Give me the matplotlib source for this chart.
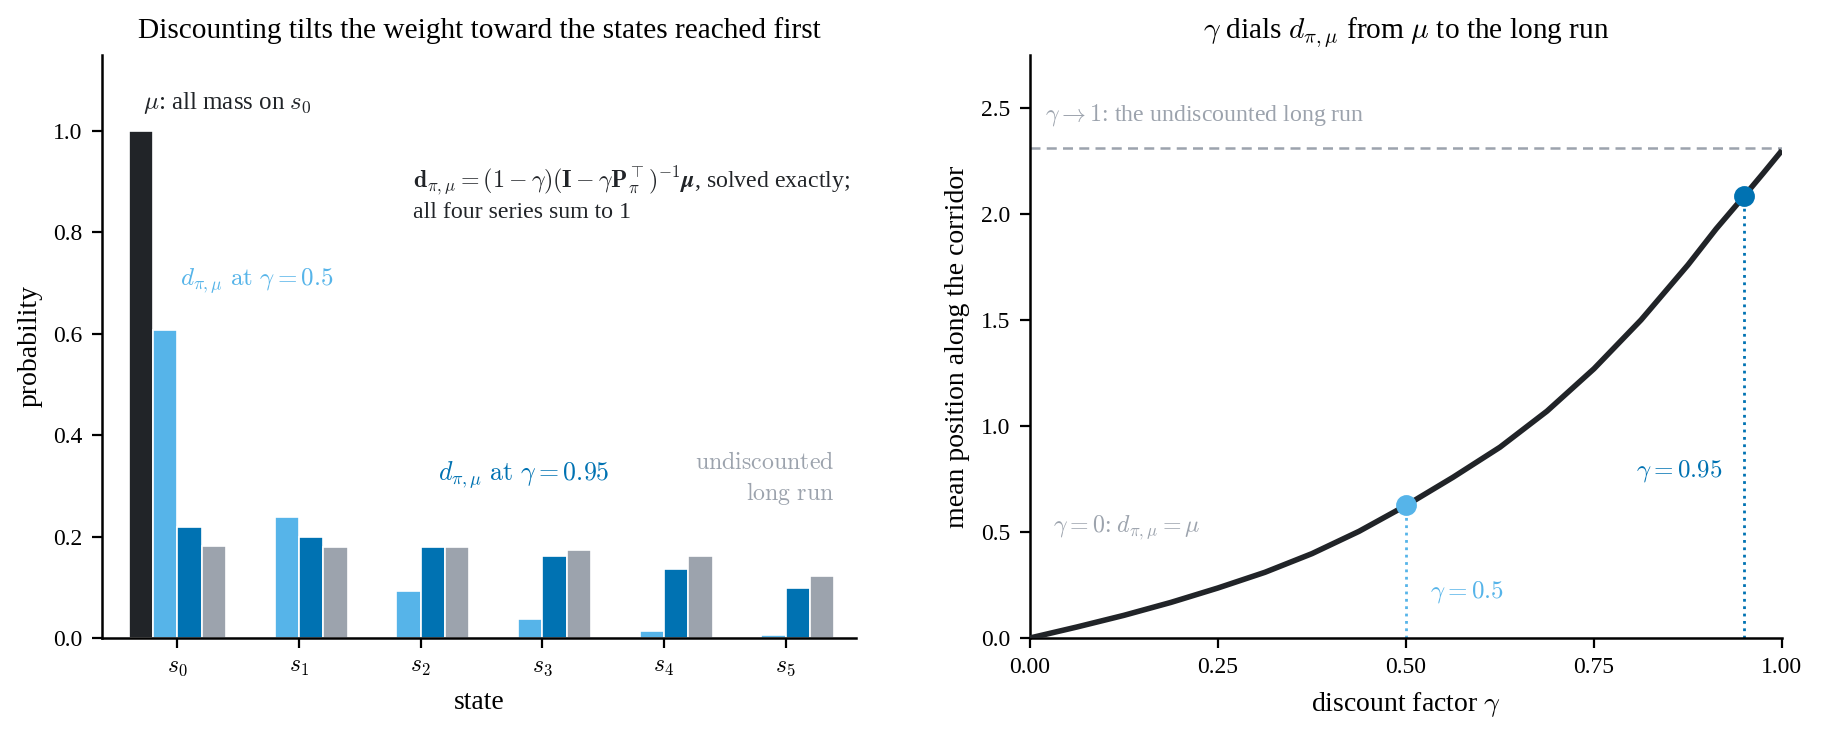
import matplotlib
matplotlib.use("Agg")
import matplotlib.pyplot as plt
import numpy as np

plt.rcParams['font.family'] = ['Liberation Serif', 'DejaVu Serif']
plt.rcParams['mathtext.fontset'] = 'cm'

# ---- data ----
states = ["$s_0$", "$s_1$", "$s_2$", "$s_3$", "$s_4$", "$s_5$"]
mu = [1.0, 0.0, 0.0, 0.0, 0.0, 0.0]
d_g05 = [0.608, 0.238, 0.093, 0.037, 0.014, 0.005]
d_g095 = [0.218, 0.199, 0.179, 0.161, 0.137, 0.099]
d_long = [0.181, 0.179, 0.179, 0.173, 0.161, 0.122]

gamma_grid = [0.0, 0.0625, 0.125, 0.1875, 0.25, 0.3125, 0.375, 0.4375, 0.5,
              0.5625, 0.625, 0.6875, 0.75, 0.8125, 0.875, 0.9125, 0.95, 0.975, 1.0]
mean_pos = [0.0, 0.052, 0.107, 0.168, 0.236, 0.310, 0.398, 0.503, 0.625,
            0.758, 0.900, 1.070, 1.270, 1.500, 1.760, 1.930, 2.086, 2.192, 2.300]
long_run_mean = 2.31
gamma_marks = [0.5, 0.95]
mean_marks = [0.625, 2.086]

# ---- styling ----
C_BLACK = "#212428"
C_LIGHT = "#56B4E9"
C_DARK = "#0072B2"
C_GREY = "#9CA3AD"

fig = plt.figure(figsize=(9.115, 3.69), dpi=200)
ax1 = fig.add_axes([0.056, 0.1355, 0.4136, 0.79])
ax2 = fig.add_axes([0.565, 0.1355, 0.4125, 0.79])

x = np.arange(len(states))
w = 0.2
series = [(mu, C_BLACK), (d_g05, C_LIGHT), (d_g095, C_DARK), (d_long, C_GREY)]
for i, (vals, col) in enumerate(series):
    ax1.bar(x + (i - 1.5) * w, vals, width=w, color=col, edgecolor="white", linewidth=0.6)

ax1.set_xticks(x)
ax1.set_xticklabels(states)
ax1.set_xlim(-0.62, 5.58)
ax1.set_ylim(0, 1.15)
ax1.set_yticks([0.0, 0.2, 0.4, 0.6, 0.8, 1.0])
ax1.set_xlabel("state", fontsize=10)
ax1.set_ylabel("probability", fontsize=10)
ax1.set_title("Discounting tilts the weight toward the states reached first", fontsize=10.6)

ax1.text(-0.28, 1.055, r"$\mu$: all mass on $s_0$", fontsize=9, color=C_BLACK, va="center")
ax1.text(1.935, 0.903,
         r"$\mathbf{d}_{\pi,\mu} = (1-\gamma)(\mathbf{I}-\gamma\mathbf{P}_\pi^\top)^{-1}\boldsymbol{\mu}$, solved exactly;",
         fontsize=8.6, color=C_BLACK, va="center")
ax1.text(1.935, 0.840, "all four series sum to 1", fontsize=8.6, color=C_BLACK, va="center")
ax1.text(0.02, 0.703, r"$d_{\pi,\mu}\ \mathrm{at}\ \gamma = 0.5$", fontsize=9, color=C_LIGHT, va="center")
ax1.text(2.14, 0.32, r"$d_{\pi,\mu}\ \mathrm{at}\ \gamma = 0.95$", fontsize=9.3, color=C_DARK, va="center")
ax1.text(5.40, 0.345, r"$\mathrm{undiscounted}$", fontsize=8.6, color=C_GREY, va="center", ha="right")
ax1.text(5.40, 0.285, r"$\mathrm{long\ run}$", fontsize=8.6, color=C_GREY, va="center", ha="right")

# ---- right panel ----
ax2.plot(gamma_grid, mean_pos, color=C_BLACK, lw=2.0, zorder=3, solid_capstyle="butt",
         solid_joinstyle="round")
ax2.axhline(long_run_mean, color=C_GREY, lw=0.9, ls=(0, (4, 2.5)), zorder=1)
mark_cols = [C_LIGHT, C_DARK]
for g, m, c in zip(gamma_marks, mean_marks, mark_cols):
    ax2.plot([g, g], [0, m], color=c, lw=1.0, ls=":", zorder=2)
    ax2.plot([g], [m], "o", color=c, markersize=6.5, zorder=4)

ax2.set_xlim(0, 1)
ax2.set_ylim(0, 2.75)
ax2.set_xticks([0.0, 0.25, 0.5, 0.75, 1.0])
ax2.set_xticklabels(["0.00", "0.25", "0.50", "0.75", "1.00"])
ax2.set_yticks([0.0, 0.5, 1.0, 1.5, 2.0, 2.5])
ax2.set_xlabel(r"discount factor $\gamma$", fontsize=10)
ax2.set_ylabel("mean position along the corridor", fontsize=10)
ax2.set_title(r"$\gamma$ dials $d_{\pi,\mu}$ from $\mu$ to the long run", fontsize=10.6)

ax2.text(0.02, 2.467, r"$\gamma \rightarrow 1$: the undiscounted long run", fontsize=8.6, color=C_GREY, va="center")
ax2.text(0.03, 0.518, r"$\gamma = 0$: $d_{\pi,\mu} = \mu$", fontsize=8.6, color=C_GREY, va="center")
ax2.text(0.532, 0.215, r"$\gamma = 0.5$", fontsize=9, color=C_LIGHT, va="center")
ax2.text(0.92, 0.79, r"$\gamma = 0.95$", fontsize=9, color=C_DARK, va="center", ha="right")

for ax in (ax1, ax2):
    ax.spines["top"].set_visible(False)
    ax.spines["right"].set_visible(False)
    ax.tick_params(labelsize=8.5, width=0.8, length=3.5)
    for s in ("left", "bottom"):
        ax.spines[s].set_linewidth(0.9)

fig.savefig("out.png", dpi=200)
